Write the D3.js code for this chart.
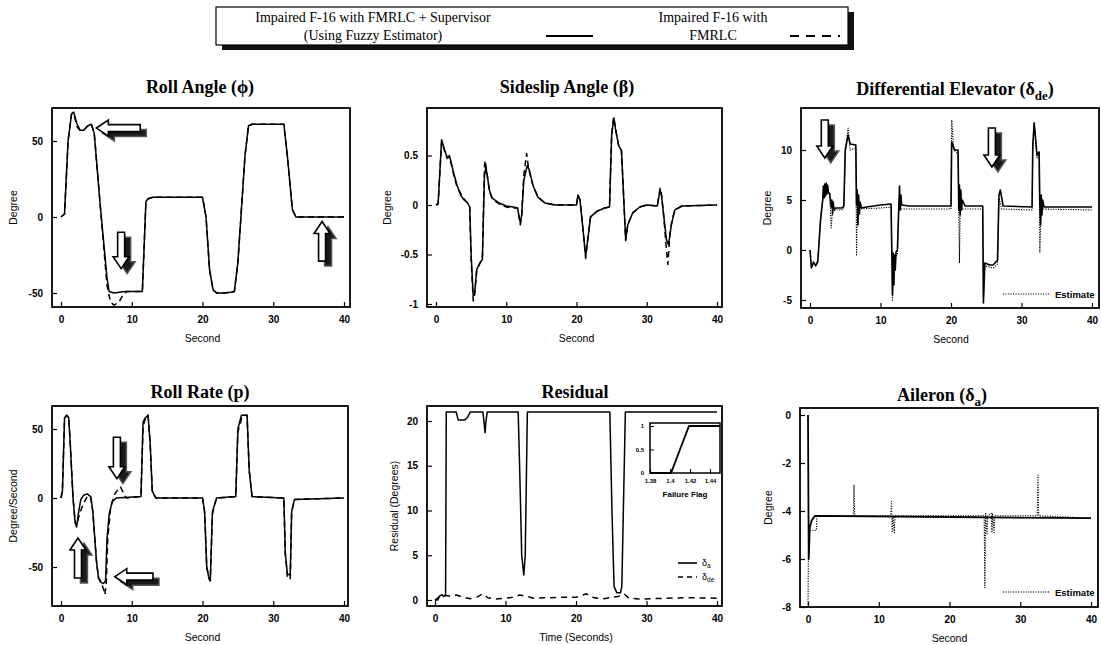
<!DOCTYPE html>
<html>
<head>
<meta charset="utf-8">
<script src="https://cdn.jsdelivr.net/npm/d3@7"></script>
<style>
  body { margin: 0; background: #fff; }
  text { fill: #000; }
  .tick text { font-family: "Liberation Sans", Arial, sans-serif; font-weight: bold; font-size: 10px; }
  .title { font-family: "Liberation Serif", "Times New Roman", serif; font-weight: bold; font-size: 18px; }
  .axlab { font-family: "Liberation Sans", Arial, sans-serif; font-size: 10.5px; }
  .leg { font-family: "Liberation Serif", "Times New Roman", serif; font-size: 14px; }
</style>
</head>
<body>
<script>
// width/height of the page
var w = 1101;
var h = 645;

// ---- data ([time, value]) ----
const xTicks = [0, 10, 20, 30, 40];

// Roll angle (deg)
const rollSup = [[0,0],[0.5,2],[1,50],[1.5,68],[1.8,69],[2.2,62],[2.7,57],[3.2,57],[3.8,60],[4.3,61],[4.7,55],[5.5,10],[6.5,-40],[6.8,-49],[7.5,-50],[9,-49],[11.5,-49],[12,10],[12.3,12],[13,13],[20,13],[20.5,0],[21,-35],[21.5,-48],[22,-50],[23,-50],[24,-49.5],[24.5,-49],[25,-30],[26,40],[26.5,60],[27,61],[31.5,61],[32,40],[32.7,5],[33.2,0],[40,0]];
const rollFm = [[0,0],[0.5,2],[1,50],[1.5,68],[1.8,68],[2.3,59],[2.7,57],[3.2,57],[3.8,60],[4.3,61],[4.7,55],[5.5,10],[6.5,-45],[7,-56],[7.5,-58],[8.2,-56],[8.8,-51],[9.3,-49],[11.5,-49],[12,10],[12.3,12],[13,13],[20,13],[20.5,0],[21,-35],[21.5,-48],[22,-50],[23,-50],[24,-49.5],[24.5,-49],[25,-30],[26,40],[26.5,60],[27,61],[31.5,61],[32,40],[32.7,5],[33.2,0],[40,0]];
const rollYTicks = [-50, 0, 50];

// Sideslip angle (deg)
const betaSup = [[0,0],[0.3,0.01],[0.8,0.66],[1.2,0.56],[1.6,0.48],[1.9,0.5],[2.2,0.42],[2.6,0.3],[3,0.2],[3.5,0.1],[4,0.05],[4.5,0.02],[4.8,-0.02],[5,-0.5],[5.3,-0.92],[5.5,-0.9],[5.8,-0.65],[6.3,-0.58],[6.6,-0.55],[6.9,0.3],[7.1,0.38],[7.3,0.3],[7.6,0.15],[8,0.07],[9,0.02],[10,-0.01],[11,-0.02],[11.6,-0.03],[12,-0.18],[12.2,-0.1],[12.5,0.25],[13,0.4],[13.3,0.35],[13.8,0.2],[14.5,0.08],[15.5,0.02],[17,0],[20,0],[20.2,0.1],[20.5,0.05],[21,-0.3],[21.3,-0.52],[21.6,-0.35],[22,-0.12],[23,-0.06],[24,-0.03],[24.7,-0.02],[25,0.7],[25.3,0.88],[25.6,0.75],[26,0.6],[26.4,0.55],[26.7,0.1],[27,-0.35],[27.3,-0.2],[28,-0.08],[29,-0.02],[30,0],[31.5,-0.01],[31.9,0.15],[32.1,0.1],[32.4,-0.1],[32.8,-0.35],[33.1,-0.4],[33.5,-0.2],[34,-0.05],[35,-0.01],[40,0]];
const betaFm = [[0,0],[0.3,0.01],[0.8,0.64],[1.2,0.55],[1.6,0.47],[1.9,0.49],[2.2,0.4],[2.6,0.28],[3,0.18],[3.5,0.12],[4,0.06],[4.5,0.02],[4.8,-0.02],[5,-0.55],[5.3,-0.97],[5.5,-0.9],[5.8,-0.66],[6.3,-0.58],[6.6,-0.55],[6.9,0.4],[7.0,0.45],[7.3,0.3],[7.6,0.14],[8,0.06],[9,0.01],[10,-0.02],[11,-0.03],[11.6,-0.03],[12,-0.2],[12.2,-0.1],[12.5,0.3],[12.9,0.52],[13.2,0.36],[13.8,0.2],[14.5,0.08],[15.5,0.02],[17,0],[20,0],[20.2,0.1],[20.5,0.05],[21,-0.3],[21.3,-0.54],[21.6,-0.35],[22,-0.12],[23,-0.06],[24,-0.03],[24.7,-0.02],[25,0.7],[25.3,0.89],[25.6,0.75],[26,0.6],[26.4,0.55],[26.7,0.1],[27,-0.36],[27.3,-0.2],[28,-0.08],[29,-0.02],[30,0],[31.5,-0.01],[31.9,0.17],[32.1,0.1],[32.4,-0.1],[32.8,-0.45],[33.0,-0.6],[33.3,-0.3],[33.6,-0.15],[34,-0.05],[35,-0.01],[40,0]];
const betaYTicks = [-1, -0.5, 0, 0.5];

// Differential elevator (deg)
const deSup = [[0,0],[0.2,-1.8],[0.5,-1.2],[0.8,-1.6],[1.1,-1.2],[1.5,3],[1.8,5],[1.9,6.4],[2.0,5.2],[2.1,6.6],[2.2,5.4],[2.3,6.7],[2.4,5.6],[2.5,6.5],[2.6,5.8],[2.8,5.6],[3.0,4.3],[3.1,5.0],[3.2,3.6],[3.3,4.8],[3.4,4.0],[3.6,4.2],[4.5,4.2],[4.8,4.4],[5.0,10],[5.4,11.5],[5.7,10.6],[6.5,10.5],[6.6,4.5],[6.7,6.0],[6.8,2.5],[6.9,5.5],[7.0,3.6],[7.1,4.8],[7.3,4.2],[8,4.3],[10,4.5],[11.5,4.6],[11.6,0],[11.7,-4.5],[11.8,-0.3],[11.9,-3.5],[12.0,-0.5],[12.1,-2],[12.2,-0.2],[12.4,0],[12.6,4.5],[12.7,6.4],[12.8,4.0],[12.9,5.5],[13,4.5],[14,4.4],[20,4.4],[20.1,10.8],[20.5,10.0],[21,10],[21.1,4],[21.2,6.5],[21.3,3.5],[21.4,6],[21.5,4],[21.6,5],[22,4.4],[24.5,4.4],[24.6,-5.3],[24.8,-1.3],[25.5,-1.5],[26,-1.5],[26.6,-1],[26.8,5.5],[27,6],[27.4,4.4],[31.5,4.3],[31.6,10.5],[31.8,12.7],[32.2,9.5],[32.5,9.8],[32.6,4.5],[32.7,2.5],[32.8,5.5],[32.9,3.5],[33,5],[33.2,4.3],[40,4.3]];
const deEst = [[0,0],[0.2,-1.6],[0.5,-1.4],[0.8,-1.4],[1.1,-1.0],[1.5,3.2],[1.8,5],[2.3,6.4],[2.8,5.4],[3.0,2.2],[3.2,4.0],[4.5,4.0],[4.8,4.2],[5.0,9.8],[5.4,12.2],[5.7,10.0],[6.5,10.2],[6.6,-0.6],[6.7,4.1],[10,4.2],[11.5,4.3],[11.6,-0.2],[11.7,-5.0],[11.9,-1.0],[12.4,-0.4],[12.6,4.1],[14,4.1],[20,4.1],[20.1,13.0],[20.4,10],[21,9.6],[21.2,-1.3],[21.3,4.1],[24.5,4.1],[24.6,-4.8],[24.8,-1.6],[26,-1.8],[26.6,-1.4],[26.8,5.2],[27.2,4.1],[31.5,4.0],[31.6,10],[31.8,12.8],[32.2,9.2],[32.5,9.6],[32.6,-0.2],[32.8,4.1],[40,4.0]];
const deYTicks = [-5, 0, 5, 10];

// Roll rate (deg/s)
const pSup = [[0,0],[0.2,5],[0.5,58],[0.8,60],[1.1,58],[1.3,40],[1.7,0],[2.0,-18],[2.2,-21],[2.5,-10],[2.8,-1],[3.2,2],[3.7,3],[4.2,1],[4.5,-10],[5,-45],[5.3,-58],[5.6,-61],[6.0,-62],[6.3,-60],[6.5,-30],[6.8,-12],[7.2,-3],[7.8,0],[11.3,1],[11.6,55],[11.9,58],[12.3,60],[12.6,40],[12.9,5],[13.4,0],[20,0],[20.3,-10],[20.6,-50],[20.9,-58],[21.1,-60],[21.4,-10],[21.7,-5],[22,0],[24.7,1],[25,50],[25.5,60],[26.3,60],[26.6,20],[27,1],[31.5,0],[31.7,-40],[32,-55],[32.4,-56],[32.6,-10],[33,-1],[40,0]];
const pFm = [[0,0],[0.2,5],[0.5,58],[0.8,60],[1.1,58],[1.3,40],[1.7,0],[2.0,-17],[2.2,-20],[2.5,-14],[2.8,-9],[3.2,-4],[3.7,1],[4.2,1],[4.5,-10],[5,-45],[5.3,-58],[5.6,-60],[6.0,-66],[6.2,-70],[6.4,-62],[6.6,-30],[7.0,-8],[7.5,2],[8.0,6],[8.4,8],[8.8,4],[9.2,0],[11.3,1],[11.6,52],[11.9,57],[12.3,60],[12.6,40],[12.9,5],[13.4,0],[20,0],[20.3,-10],[20.6,-50],[20.9,-58],[21.1,-60],[21.4,-12],[21.7,-5],[22,0],[24.7,1],[25,48],[25.4,55],[25.6,60],[26.3,60],[26.6,20],[27,1],[31.5,0],[31.7,-40],[32,-57],[32.4,-59],[32.6,-10],[33,-1],[40,0]];
const pYTicks = [-50, 0, 50];

// Residual (deg)
const resA = [[0,0],[0.4,0],[0.6,0.4],[1.0,0.6],[1.2,0.4],[1.5,0.5],[1.6,21],[3.0,21],[3.3,20.1],[4.2,20.1],[4.6,20.4],[5,21],[6.8,21],[7.0,19.5],[7.1,18.7],[7.2,19.8],[7.4,21],[11.8,21],[12.0,15],[12.3,5],[12.6,2.8],[12.8,5],[13.1,21],[24.8,21],[25.1,10],[25.4,1.5],[25.8,0.8],[26.3,0.8],[26.5,1.5],[27,21],[40,21]];
const resDe = [[0,0],[0.5,0.3],[1,0.6],[1.5,0.5],[2,0.45],[3,0.55],[4,0.3],[5,0.15],[6,0.35],[6.8,0.7],[7.5,0.25],[8.5,0.1],[10,0.2],[11,0.3],[12,0.55],[13,0.4],[14,0.2],[16,0.25],[18,0.3],[20,0.3],[21.5,0.7],[22,0.35],[23,0.2],[24,0.15],[25,0.3],[26,0.4],[26.8,0.7],[27.5,0.2],[29,0.1],[31,0.15],[33,0.2],[36,0.25],[40,0.2]];
const resYTicks = [0, 5, 10, 15, 20];
// inset: failure flag
const flag = [[1.38,0],[1.401,0],[1.419,1],[1.45,1]];
const flagXTicks = [1.38, 1.4, 1.42, 1.44];
const flagYTicks = [0, 0.5, 1];

// Aileron (deg)
const daSup = [[0,0],[0.1,-6],[0.25,-4.7],[0.5,-4.4],[1,-4.2],[20,-4.25],[40,-4.3]];
const daEst = [[0,-8],[0.05,-6],[0.15,-4.8],[1.2,-4.8],[1.25,-4.2],[6.4,-4.2],[6.5,-2.9],[6.6,-4.2],[11.7,-4.2],[11.8,-3.6],[11.9,-4.9],[12.0,-4.2],[12.2,-4.9],[12.3,-4.2],[24.9,-4.2],[25.0,-7.2],[25.1,-4.1],[25.3,-5.0],[25.4,-4.2],[25.9,-4.1],[26.0,-4.9],[26.1,-4.1],[26.3,-4.9],[26.4,-4.2],[32.4,-4.2],[32.5,-2.5],[32.6,-4.2],[40,-4.3]];
const daYTicks = [-8, -6, -4, -2, 0];

// ---- svg ----
var svg = d3.select("body")
  .append("svg")
  .attr("width", w)
  .attr("height", h);

const line = (xs, ys) => d3.line().x(d => xs(d[0])).y(d => ys(d[1]));

// build one framed panel and return its scales
function panel(p) {
  const x = d3.scaleLinear().domain([0, 40]).range(p.xr);
  const y = d3.scaleLinear().domain(p.yd).range(p.yr);
  const g = svg.append("g");

  g.append("g")
    .attr("transform", `translate(0,${p.box[3]})`)
    .call(d3.axisBottom(x).tickValues(xTicks).tickSizeInner(-5).tickSizeOuter(0).tickPadding(9).tickFormat(d => String(d)))
    .call(a => a.select(".domain").remove())
    .call(a => a.selectAll("text").attr("fill", "#000"));

  g.append("g")
    .attr("transform", `translate(${p.box[0]},0)`)
    .call(d3.axisLeft(y).tickValues(p.yt).tickSizeInner(-5).tickSizeOuter(0).tickPadding(9).tickFormat(d => String(d)))
    .call(a => a.select(".domain").remove())
    .call(a => a.selectAll("text").attr("fill", "#000"));

  g.selectAll(".tick line").attr("stroke", "#000").attr("stroke-width", 1.2);

  g.append("rect")
    .attr("x", p.box[0]).attr("y", p.box[1])
    .attr("width", p.box[2] - p.box[0]).attr("height", p.box[3] - p.box[1])
    .attr("fill", "none").attr("stroke", "#000").attr("stroke-width", 1.8);

  // title
  const t = g.append("text").attr("class", "title")
    .attr("x", p.tx).attr("y", p.ty).attr("text-anchor", "middle")
    .text(p.title);
  if (p.sub) {
    t.append("tspan").style("font-size", "13px").attr("dy", 5).text(p.sub);
    t.append("tspan").attr("dy", -5).text(")");
  }

  g.append("text").attr("class", "axlab")
    .attr("x", (p.xr[0] + p.xr[1]) / 2).attr("y", p.box[3] + 35)
    .attr("text-anchor", "middle").text(p.xlab);

  g.append("text").attr("class", "axlab")
    .attr("transform", `translate(${p.ylx},${(p.box[1] + p.box[3]) / 2}) rotate(-90)`)
    .attr("text-anchor", "middle").text(p.ylab);

  return { x, y, g };
}

function draw(pn, data, dash, width) {
  pn.g.append("path")
    .datum(data)
    .attr("fill", "none")
    .attr("stroke", "#000")
    .attr("stroke-width", width || 1.5)
    .attr("stroke-linejoin", "round")
    .attr("stroke-dasharray", dash || null)
    .attr("d", line(pn.x, pn.y));
}

// hollow block arrow with dark shadow, from tail (t0,v0) to tip (t1,v1)
function arrow(pn, t0, v0, t1, v1) {
  const x0 = pn.x(t0), y0 = pn.y(v0), x1 = pn.x(t1), y1 = pn.y(v1);
  const len = Math.hypot(x1 - x0, y1 - y0);
  const ang = Math.atan2(y1 - y0, x1 - x0) * 180 / Math.PI;
  const hw = 3.5, hh = 8, hl = 12;
  const shape = `M0,${-hw}L${len - hl},${-hw}L${len - hl},${-hh}L${len},0L${len - hl},${hh}L${len - hl},${hw}L0,${hw}Z`;
  pn.g.append("path")
    .attr("d", shape)
    .attr("transform", `translate(${x0 + 6},${y0 + 5}) rotate(${ang})`)
    .attr("fill", "#1a1a1a").attr("stroke", "#555").attr("stroke-width", 1.5);
  pn.g.append("path").attr("d", shape)
    .attr("transform", `translate(${x0},${y0}) rotate(${ang})`)
    .attr("fill", "#fff").attr("stroke", "#000").attr("stroke-width", 1.6);
}

// small label with a subscript
function subLabel(g, x, y, main, sub) {
  const t = g.append("text").attr("class", "axlab").style("font-size", "9px").attr("x", x).attr("y", y).text(main);
  t.append("tspan").style("font-size", "6.5px").attr("dy", 2).text(sub);
}

function estimateKey(g, x, y) {
  g.append("line").attr("x1", x).attr("x2", x + 47).attr("y1", y).attr("y2", y)
    .attr("stroke", "#000").attr("stroke-dasharray", "1.2,1.3");
  g.append("text").attr("class", "axlab").style("font-size", "9.5px").style("font-weight", "bold")
    .attr("x", x + 52).attr("y", y + 3.5).text("Estimate");
}

// ---- legend ----
const leg = svg.append("g");
leg.append("rect").attr("x", 222).attr("y", 12).attr("width", 632).attr("height", 38).attr("fill", "#111");
leg.append("rect").attr("x", 216).attr("y", 7).attr("width", 632).attr("height", 38)
  .attr("fill", "#fff").attr("stroke", "#000").attr("stroke-width", 1.2);
leg.append("text").attr("class", "leg").attr("x", 373).attr("y", 22).attr("text-anchor", "middle").text("Impaired F-16 with FMRLC + Supervisor");
leg.append("text").attr("class", "leg").attr("x", 373).attr("y", 40).attr("text-anchor", "middle").text("(Using Fuzzy Estimator)");
leg.append("text").attr("class", "leg").attr("x", 713).attr("y", 22).attr("text-anchor", "middle").text("Impaired F-16 with");
leg.append("text").attr("class", "leg").attr("x", 713).attr("y", 40).attr("text-anchor", "middle").text("FMRLC");
leg.append("line").attr("x1", 546).attr("x2", 593).attr("y1", 36).attr("y2", 36).attr("stroke", "#000").attr("stroke-width", 2);
leg.append("line").attr("x1", 790).attr("x2", 840).attr("y1", 36).attr("y2", 36).attr("stroke", "#000").attr("stroke-width", 2).attr("stroke-dasharray", "9,7");

// ---- panels ----
const p1 = panel({ box: [52, 108, 350, 307], xr: [61, 344], yd: [0, 50], yr: [217, 141], yt: rollYTicks,
  title: "Roll Angle (\u03d5)", tx: 200, ty: 93, xlab: "Second", ylab: "Degree", ylx: 17 });
draw(p1, rollFm, "6,4");
draw(p1, rollSup);
arrow(p1, 11.2, 58.5, 5.0, 58.5);
arrow(p1, 8.5, -10, 8.5, -34);
arrow(p1, 36.9, -29, 36.9, -3);

const p2 = panel({ box: [427, 108, 722, 307], xr: [436, 717], yd: [0, -1], yr: [205, 304], yt: betaYTicks,
  title: "Sideslip Angle (\u03b2)", tx: 567, ty: 93, xlab: "Second", ylab: "Degree", ylx: 391 });
draw(p2, betaFm, "6,4");
draw(p2, betaSup);

const p3 = panel({ box: [801, 108, 1099, 308], xr: [810, 1092], yd: [0, 10], yr: [250, 150], yt: deYTicks,
  title: "Differential Elevator (\u03b4", sub: "de", tx: 955, ty: 95, xlab: "Second", ylab: "Degree", ylx: 771 });
draw(p3, deEst, "1.2,1.3", 1.1);
draw(p3, deSup, null, 1.6);
arrow(p3, 2.1, 13, 2.1, 9.2);
arrow(p3, 25.8, 12.2, 25.8, 8.3);
estimateKey(p3.g, 1003, 294);

const p4 = panel({ box: [52, 406, 348, 606], xr: [61, 344], yd: [0, 50], yr: [498, 429], yt: pYTicks,
  title: "Roll Rate (p)", tx: 200, ty: 398, xlab: "Second", ylab: "Degree/Second", ylx: 17 });
draw(p4, pFm, "6,4");
draw(p4, pSup);
arrow(p4, 7.9, 44, 7.9, 14);
arrow(p4, 2.4, -58, 2.4, -29);
arrow(p4, 13, -57, 7.6, -57);

const p5 = panel({ box: [427, 406, 722, 606], xr: [435, 717], yd: [0, 20], yr: [600, 421], yt: resYTicks,
  title: "Residual", tx: 575, ty: 398, xlab: "Time (Seconds)", ylab: "Residual (Degrees)", ylx: 398 });
draw(p5, resDe, "6,5");
draw(p5, resA);
// legend in residual panel
p5.g.append("line").attr("x1", 678).attr("x2", 697).attr("y1", 563).attr("y2", 563).attr("stroke", "#000").attr("stroke-width", 1.6);
p5.g.append("line").attr("x1", 678).attr("x2", 697).attr("y1", 577).attr("y2", 577).attr("stroke", "#000").attr("stroke-width", 1.6).attr("stroke-dasharray", "5,4");
subLabel(p5.g, 702, 566, "\u03b4", "a");
subLabel(p5.g, 702, 580, "\u03b4", "de");

// inset
const ix = d3.scaleLinear().domain([1.38, 1.45]).range([650, 720]);
const iy = d3.scaleLinear().domain([0, 1]).range([473, 426]);
const ins = p5.g.append("g");
ins.append("rect").attr("x", 650).attr("y", 423).attr("width", 70).attr("height", 50).attr("fill", "#fff");
ins.append("g").attr("transform", "translate(0,473)")
  .call(d3.axisBottom(ix).tickValues(flagXTicks).tickSizeInner(-4).tickSizeOuter(0).tickPadding(6).tickFormat(d => String(d)))
  .call(a => a.select(".domain").remove())
  .call(a => a.selectAll("text").style("font-size", "6px"));
ins.append("g").attr("transform", "translate(650,0)")
  .call(d3.axisLeft(iy).tickValues(flagYTicks).tickSizeInner(-4).tickSizeOuter(0).tickPadding(6).tickFormat(d => String(d)))
  .call(a => a.select(".domain").remove())
  .call(a => a.selectAll("text").style("font-size", "6px"));
ins.selectAll(".tick line").attr("stroke", "#000");
ins.append("rect").attr("x", 650).attr("y", 423).attr("width", 70).attr("height", 50)
  .attr("fill", "none").attr("stroke", "#000").attr("stroke-width", 1.5);
ins.append("path").datum(flag).attr("fill", "none").attr("stroke", "#000").attr("stroke-width", 1.8)
  .attr("d", d3.line().x(d => ix(d[0])).y(d => iy(d[1])));
ins.append("text").attr("class", "axlab").style("font-size", "8px").style("font-weight", "bold")
  .attr("x", 685).attr("y", 497).attr("text-anchor", "middle").text("Failure Flag");

const p6 = panel({ box: [800, 408, 1098, 607], xr: [808, 1091], yd: [0, -8], yr: [415, 607], yt: daYTicks,
  title: "Aileron (\u03b4", sub: "a", tx: 942, ty: 401, xlab: "Second", ylab: "Degree", ylx: 772 });
draw(p6, daEst, "1.2,1.3", 1.1);
draw(p6, daSup, null, 1.8);
estimateKey(p6.g, 1003, 592);
</script>
</body>
</html>
